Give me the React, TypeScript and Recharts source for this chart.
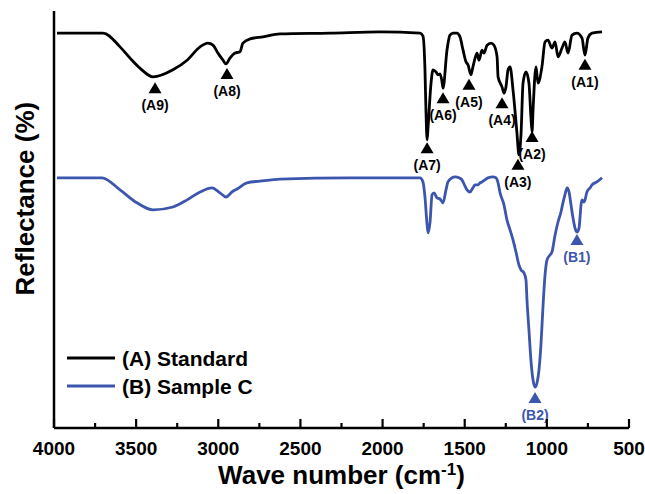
import React from 'react';
import { ComposedChart, Line, Scatter, XAxis, YAxis } from 'recharts';

// (A) Standard spectrum: wavenumber (cm-1) and reflectance (%)
const standardWavenumber = [
  3982, 3702, 3598, 3537, 3477, 3397, 3276, 3190, 3111, 3063, 3032, 3002, 2971, 2953, 2929, 2898, 2868, 2850, 2807, 2728, 2624, 2320, 2016, 1772,
  1754, 1742, 1736, 1729, 1723, 1705, 1693, 1675, 1663, 1650, 1638, 1632, 1608, 1590, 1571, 1547, 1529, 1510, 1492, 1480, 1462, 1450, 1437, 1425,
  1413, 1395, 1383, 1364, 1340, 1322, 1303, 1297, 1273, 1261, 1249, 1236, 1224, 1206, 1182, 1170, 1157, 1145, 1127, 1109, 1097, 1090, 1084, 1066,
  1054, 1030, 1011, 993, 969, 950, 932, 908, 890, 871, 847, 817, 786, 768, 750, 725, 664,
];
const standardReflectance = [
  94.7, 94.7, 91.4, 88.7, 86.3, 84.2, 85.9, 88.2, 91.4, 92.3, 91.8, 89.9, 88.2, 87.3, 88.7, 89.9, 90.2, 92.3, 93.3, 93.8, 94.5, 94.7, 95.0, 94.7,
  94.0, 86.0, 76.3, 69.1, 72.2, 82.7, 85.9, 85.4, 84.7, 84.9, 83.0, 81.5, 90.6, 94.2, 94.7, 94.7, 93.8, 90.6, 87.8, 87.1, 84.7, 86.6, 88.7, 89.9,
  88.2, 90.6, 89.9, 91.8, 92.3, 91.8, 89.0, 84.2, 81.8, 80.3, 81.8, 85.9, 86.6, 81.1, 70.7, 65.5, 70.7, 82.7, 85.4, 82.7, 74.6, 71.0, 76.3, 86.6,
  82.7, 86.6, 92.6, 93.0, 91.1, 92.6, 89.0, 91.1, 92.6, 89.9, 94.2, 94.7, 93.5, 89.4, 93.5, 94.7, 95.0,
];

// (B) Sample C spectrum
const sampleWavenumber = [
  3982, 3708, 3598, 3495, 3397, 3276, 3190, 3111, 3038, 2990, 2953, 2917, 2886, 2825, 2746, 2624, 2198, 1772,
  1754, 1742, 1729, 1723, 1711, 1699, 1687, 1669, 1650, 1632, 1614, 1602, 1577, 1559, 1535, 1517, 1498, 1486, 1468, 1450, 1437, 1419,
  1407, 1395, 1377, 1358, 1328, 1310, 1297, 1285, 1261, 1243, 1224, 1206, 1188, 1170, 1157, 1139, 1127, 1121, 1109, 1097, 1084, 1072,
  1060, 1048, 1036, 1023, 1011, 999, 981, 969, 950, 932, 914, 902, 890, 877, 865, 853, 841, 829, 817, 804, 798, 792, 786, 774, 768,
  756, 737, 725, 695, 664,
];
const sampleReflectance = [
  60.0, 60.0, 57.1, 54.0, 52.3, 53.0, 54.7, 56.6, 57.6, 56.4, 55.4, 56.6, 57.3, 58.8, 59.2, 59.7, 60.0, 60.0,
  59.0, 55.4, 48.7, 46.8, 49.4, 55.9, 56.4, 55.2, 54.9, 54.0, 57.1, 59.0, 60.0, 60.2, 60.0, 59.5, 58.0, 57.1, 56.6, 57.6, 58.3, 58.3,
  58.8, 59.0, 59.5, 60.0, 60.2, 60.0, 58.8, 56.4, 53.5, 49.9, 47.5, 45.1, 42.2, 39.1, 37.9, 37.2, 35.5, 30.7, 23.5, 16.3, 11.5, 9.8,
  10.8, 13.9, 19.9, 29.5, 36.7, 40.3, 41.5, 42.2, 46.3, 49.4, 51.8, 54.0, 55.9, 57.6, 56.6, 53.5, 50.4, 48.0, 47.0, 48.0, 50.6, 53.5, 54.7, 54.2, 54.7,
  56.6, 57.6, 58.3, 59.0, 60.0,
];

// Peak markers
const peakLabelsA = ['(A1)', '(A2)', '(A3)', '(A4)', '(A5)', '(A6)', '(A7)', '(A8)', '(A9)'];
const peakWavenumbersA = [768, 1090, 1176, 1273, 1474, 1632, 1729, 2947, 3385];
const peakLevelsA = [87.1, 69.8, 63.1, 77.9, 82.3, 79.1, 67.1, 84.9, 81.5];
const peakLabelsB = ['(B1)', '(B2)'];
const peakWavenumbersB = [817, 1072];
const peakLevelsB = [45.1, 7.2];

const seriesNames = ['(A) Standard', '(B) Sample C'];
const seriesColors = ['#000000', '#3c55ad'];

const xTicks = [4000, 3750, 3500, 3250, 3000, 2750, 2500, 2250, 2000, 1750, 1500, 1250, 1000, 750, 500];
const xMajorStep = 500;

const FONT = '"Liberation Sans", Arial, Helvetica, sans-serif';

const standardData = standardWavenumber.map((x, i) => ({ x, y: standardReflectance[i] }));
const sampleData = sampleWavenumber.map((x, i) => ({ x, y: sampleReflectance[i] }));
const markersA = peakWavenumbersA.map((x, i) => ({ x, y: peakLevelsA[i], label: peakLabelsA[i] }));
const markersB = peakWavenumbersB.map((x, i) => ({ x, y: peakLevelsB[i], label: peakLabelsB[i] }));

const TICK_MARGIN = 20;

const XTick = (props: any) => {
  const { x, y, payload } = props;
  const major = payload.value % xMajorStep === 0;
  const axisY = y - TICK_MARGIN;
  return (
    <g>
      <line x1={x} x2={x} y1={axisY} y2={axisY - (major ? 9 : 5)} stroke="#000" strokeWidth={2.2} />
      {major && (
        <text x={x} y={y} textAnchor="middle" dominantBaseline="central" fontSize={19} fontWeight="bold" fontFamily={FONT} fill="#000">
          {payload.value}
        </text>
      )}
    </g>
  );
};

const makeMarker = (color: string) => (props: any) => {
  const { cx, cy, payload } = props;
  if (cx == null || cy == null) return <g />;
  return (
    <g>
      <polygon points={`${cx},${cy - 6} ${cx - 6.5},${cy + 5} ${cx + 6.5},${cy + 5}`} fill={color} />
      <text x={cx} y={cy + 17} textAnchor="middle" dominantBaseline="central" fontSize={14} fontWeight="bold" fontFamily={FONT} fill={color}>
        {payload.label}
      </text>
    </g>
  );
};

const XLabel = (props: any) => {
  const { viewBox } = props;
  if (!viewBox) return null;
  const cx = viewBox.x + viewBox.width / 2;
  const baseline = viewBox.y + 56;
  return (
    <text x={cx} y={baseline} textAnchor="middle" fontSize={26} fontWeight="bold" fontFamily={FONT} fill="#000">
      Wave number (cm
      <tspan fontSize={17} dy={-9}>-1</tspan>
      <tspan dy={9}>)</tspan>
    </text>
  );
};

const YLabel = (props: any) => {
  const { viewBox } = props;
  if (!viewBox) return null;
  const cx = viewBox.x + 25;
  const cy = viewBox.y + viewBox.height * 0.45;
  return (
    <text x={cx} y={cy} transform={`rotate(-90, ${cx}, ${cy})`} textAnchor="middle" dominantBaseline="central" fontSize={26} fontWeight="bold" fontFamily={FONT} fill="#000">
      Reflectance (%)
    </text>
  );
};

const LegendBox = () => (
  <svg width={230} height={56} style={{ position: 'absolute', left: 60, top: 344 }}>
    {seriesNames.map((name, i) => (
      <g key={name}>
        <line x1={7} x2={55} y1={14 + i * 28} y2={14 + i * 28} stroke={seriesColors[i]} strokeWidth={3} />
        <text x={62} y={14 + i * 28} dominantBaseline="central" fontSize={21} fontWeight="bold" fontFamily={FONT} fill="#000">
          {name}
        </text>
      </g>
    ))}
  </svg>
);

export default function App() {
  const axisStroke = { stroke: '#000', strokeWidth: 2.5 };
  return (
    <div style={{ position: 'absolute', left: 0, top: 0, width: 645, height: 494, background: '#fff' }}>
      <ComposedChart width={645} height={494} margin={{ top: 11, right: 16, bottom: 0, left: 0 }}>
        <XAxis
          xAxisId="bottom"
          type="number"
          dataKey="x"
          domain={[500, 4000]}
          reversed
          ticks={xTicks}
          interval={0}
          tickLine={false}
          tickSize={0}
          tickMargin={TICK_MARGIN}
          tick={<XTick />}
          axisLine={axisStroke}
          height={66}
          allowDataOverflow
          label={<XLabel />}
        />
        <XAxis
          xAxisId="top"
          orientation="top"
          type="number"
          dataKey="x"
          domain={[500, 4000]}
          reversed
          tick={false}
          tickLine={false}
          axisLine={axisStroke}
          height={0}
          allowDataOverflow
        />
        <YAxis
          yAxisId="left"
          type="number"
          domain={[0, 100]}
          tick={false}
          tickLine={false}
          axisLine={axisStroke}
          width={54}
          allowDataOverflow
          label={<YLabel />}
        />
        <YAxis
          yAxisId="right"
          orientation="right"
          type="number"
          domain={[0, 100]}
          tick={false}
          tickLine={false}
          axisLine={axisStroke}
          width={0}
          allowDataOverflow
        />
        <Line
          xAxisId="bottom"
          yAxisId="left"
          data={standardData}
          dataKey="y"
          type="monotone"
          stroke={seriesColors[0]}
          strokeWidth={2.8}
          dot={false}
          isAnimationActive={false}
          name={seriesNames[0]}
        />
        <Line
          xAxisId="bottom"
          yAxisId="left"
          data={sampleData}
          dataKey="y"
          type="monotone"
          stroke={seriesColors[1]}
          strokeWidth={2.8}
          dot={false}
          isAnimationActive={false}
          name={seriesNames[1]}
        />
        <Scatter xAxisId="bottom" yAxisId="left" data={markersA} dataKey="y" shape={makeMarker(seriesColors[0])} isAnimationActive={false} legendType="none" />
        <Scatter xAxisId="bottom" yAxisId="left" data={markersB} dataKey="y" shape={makeMarker(seriesColors[1])} isAnimationActive={false} legendType="none" />
      </ComposedChart>
      <LegendBox />
    </div>
  );
}
